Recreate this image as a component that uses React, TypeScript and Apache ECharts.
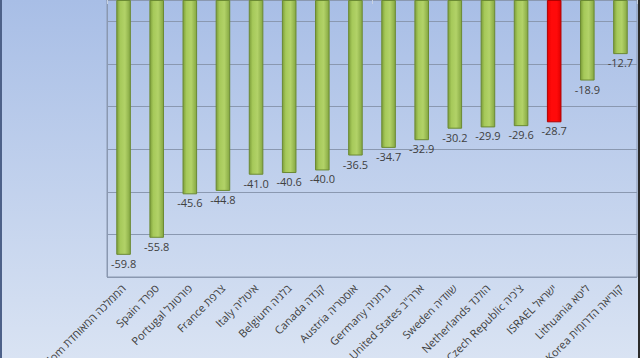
import React, { useEffect, useRef } from "react";
import * as echarts from "echarts";

const categories: string[] = [
  "United Kingdom הממלכה המאוחדת",
  "Spain ספרד",
  "Portugal פורטוגל",
  "France צרפת",
  "Italy איטליה",
  "Belgium בלגיה",
  "Canada קנדה",
  "Austria אוסטריה",
  "Germany גרמניה",
  "United States ארה\"ב",
  "Sweden שוודיה",
  "Netherlands הולנד",
  "Czech Republic צ'כיה",
  "ISRAEL ישראל",
  "Lithuania ליטא",
  "South Korea קוריאה הדרומית",
];

const values: number[] = [
  -59.8, -55.8, -45.6, -44.8, -41.0, -40.6, -40.0, -36.5, -34.7, -32.9, -30.2,
  -29.9, -29.6, -28.7, -18.9, -12.7,
];

const highlighted = "ISRAEL ישראל";

const FONT = "'Open Sans', 'Liberation Sans', 'DejaVu Sans', sans-serif";

export default function App() {
  const ref = useRef<HTMLDivElement>(null);

  useEffect(() => {
    document.body.style.margin = "0";
    if (!ref.current) return;
    const chart = echarts.init(ref.current, undefined, { renderer: "svg" });

    const green = new echarts.graphic.LinearGradient(0, 0, 1, 0, [
      { offset: 0, color: "#7d9e3a" },
      { offset: 0.25, color: "#a6c95a" },
      { offset: 0.6, color: "#b2d268" },
      { offset: 1, color: "#85a742" },
    ]);
    const red = new echarts.graphic.LinearGradient(0, 0, 1, 0, [
      { offset: 0, color: "#e80000" },
      { offset: 0.3, color: "#ff0a0a" },
      { offset: 0.7, color: "#ff0a0a" },
      { offset: 1, color: "#e00000" },
    ]);

    chart.setOption({
      animation: false,
      backgroundColor: new echarts.graphic.LinearGradient(0, 0, 0, 1, [
        { offset: 0, color: "#a8bee6" },
        { offset: 1, color: "#d9e3f3" },
      ]),
      grid: {
        left: 107,
        right: 3,
        top: 0,
        bottom: 81,
        containLabel: false,
        outerBoundsMode: "none",
        show: true,
        borderColor: "#8a98b0",
        borderWidth: 1,
        backgroundColor: "transparent",
      },
      xAxis: [
        {
          type: "category",
          data: categories,
          position: "bottom",
          axisLine: { show: true, lineStyle: { color: "#8a98b0" } },
          axisTick: { show: false },
          axisLabel: {
            rotate: 45,
            interval: 0,
            margin: 9,
            fontSize: 11,
            color: "#404040",
            fontFamily: FONT,
          },
        },
        {
          type: "category",
          data: categories,
          position: "top",
          axisLine: { show: false },
          axisTick: { show: true, inside: true, length: 4, lineStyle: { color: "#c8d2e2" } },
          axisLabel: { show: false },
        },
      ],
      yAxis: {
        type: "value",
        min: -65,
        max: 0,
        interval: 10,
        axisLabel: { show: false },
        axisLine: { show: true, lineStyle: { color: "#8a98b0" } },
        axisTick: { show: false },
        splitLine: { show: true, lineStyle: { color: "#8a98b0", width: 1 } },
      },
      graphic: [
        { type: "rect", left: 0, top: 0, shape: { width: 2, height: 358 }, style: { fill: "#4d6189" }, z: 100 },
        { type: "rect", left: 638, top: 0, shape: { width: 2, height: 358 }, style: { fill: "#2b2b2b" }, z: 100 },
      ],
      series: [
        {
          type: "bar",
          xAxisIndex: 0,
          barWidth: "44%",
          data: values.map((v, i) => ({
            value: v,
            itemStyle: {
              color: categories[i] === highlighted ? red : green,
              borderColor: categories[i] === highlighted ? "#b00000" : "#6b8a33",
              borderWidth: 1,
            },
          })),
          label: {
            show: true,
            position: "bottom",
            distance: 3,
            fontSize: 11,
            color: "#404040",
            fontFamily: FONT,
            formatter: (p: any) => Number(p.value).toFixed(1),
          },
        },
      ],
    });

    return () => chart.dispose();
  }, []);

  return <div ref={ref} style={{ width: 640, height: 358 }} />;
}
